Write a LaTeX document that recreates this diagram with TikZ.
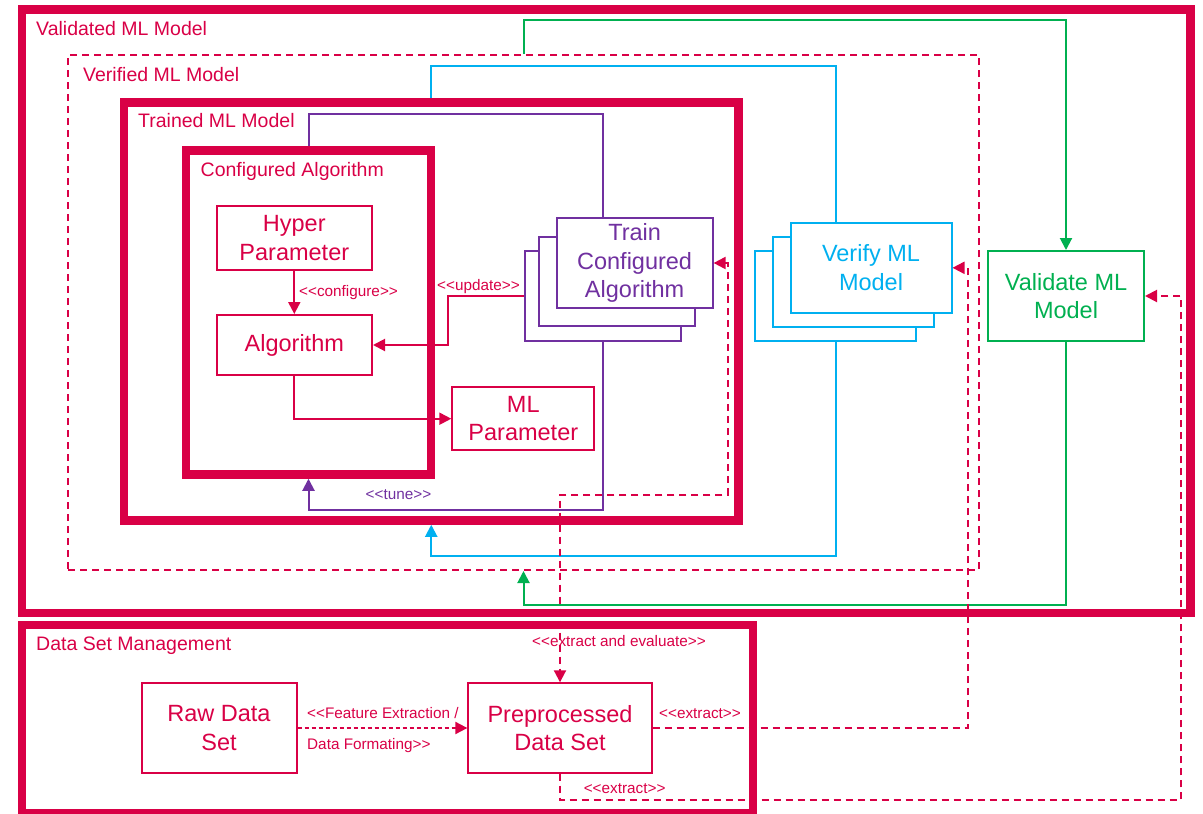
\documentclass[tikz,border=0pt]{standalone}
\usepackage{fontspec}
\newfontfamily\arial{Liberation Sans}
\usetikzlibrary{arrows.meta}
\definecolor{crimson}{HTML}{D90046}
\definecolor{mlpurple}{HTML}{7030A0}
\definecolor{mlblue}{HTML}{00B0F0}
\definecolor{mlgreen}{HTML}{00B050}
\tikzset{
  thickframe/.style={draw=crimson, line width=8.5pt, inner sep=0pt},
  dashframe/.style={draw=crimson, line width=2pt, dash pattern=on 7pt off 5pt, inner sep=0pt},
  ttl/.style={text=crimson, font=\arial\fontsize{19.5}{23}\selectfont, anchor=base west, inner sep=0pt},
  cbox/.style={draw=#1, text=#1, line width=2pt, fill=white, align=center, inner sep=0pt,
    font=\arial\fontsize{23.5}{28.5}\selectfont},
  lbl/.style={text=#1, font=\arial\fontsize{15.3}{18}\selectfont, inner sep=0pt, anchor=base west},
  lbl/.default=crimson,
  wire/.style={draw=#1, line width=2pt},
  arr/.style={-{Triangle[length=12pt,width=12pt]}},
  darr/.style={{Triangle[length=12pt,width=12pt]}-{Triangle[length=12pt,width=12pt]}},
  dwire/.style={draw=crimson, line width=2pt, dash pattern=on 7pt off 5pt},
  fwire/.style={draw=crimson, line width=2pt, dash pattern=on 4.5pt off 2.5pt},
}
\begin{document}
\begin{tikzpicture}[x=1pt,y=-1pt]
\useasboundingbox (0,0) rectangle (1203,814);

% containers
\node[thickframe, minimum width=1168.5pt, minimum height=603.5pt] (validated) at (606.25,311.25) {};
\node[dashframe, minimum width=911pt, minimum height=515pt] (verified) at (523.5,312.5) {};
\node[thickframe, minimum width=614.5pt, minimum height=418pt] (trained) at (431.25,311.5) {};
\node[thickframe, minimum width=245pt, minimum height=324pt] (configured) at (308.5,312.5) {};
\node[thickframe, minimum width=731pt, minimum height=188.5pt] (dataset) at (387.5,719.25) {};

\node[ttl] (tValidated) at (36,35) {Validated ML Model};
\node[ttl] (tVerified) at (83,81) {Verified ML Model};
\node[ttl] (tTrained) at (138,127.7) {Trained ML Model};
\node[ttl] (tConfigured) at (200.5,176.7) {Configured Algorithm};
\node[ttl] (tDataset) at (36,650.7) {Data Set Management};

% activity stacks
\node[cbox=mlpurple, minimum width=156pt, minimum height=89.4pt] (trainC) at (603,296) {};
\node[cbox=mlpurple, minimum width=156pt, minimum height=89.4pt] (trainB) at (616.6,281.5) {};
\node[cbox=mlpurple, minimum width=156pt, minimum height=89.4pt] (trainA) at (634.6,263) {Train\\Configured\\Algorithm};

\node[cbox=mlblue, minimum width=161pt, minimum height=89.6pt] (verifyC) at (835.6,296) {};
\node[cbox=mlblue, minimum width=161pt, minimum height=89.6pt] (verifyB) at (853,281.8) {};
\node[cbox=mlblue, minimum width=161pt, minimum height=89.6pt] (verifyA) at (871,267.8) {Verify ML\\Model};

\node[cbox=mlgreen, minimum width=156pt, minimum height=90pt] (validate) at (1066,296) {Validate ML\\Model};

% artefacts
\node[cbox=crimson, minimum width=155.4pt, minimum height=64.3pt] (hyper) at (294.3,238) {Hyper\\Parameter};
\node[cbox=crimson, minimum width=155.4pt, minimum height=60pt] (algo) at (294.3,345) {Algorithm};
\node[cbox=crimson, minimum width=142pt, minimum height=62.7pt] (mlparam) at (523.3,418.7) {ML\\Parameter};
\node[cbox=crimson, minimum width=155pt, minimum height=89.4pt] (raw) at (219,728) {Raw Data\\Set};
\node[cbox=crimson, minimum width=183.3pt, minimum height=89.4pt] (prep) at (560,728) {Preprocessed\\Data Set};

% route points
\coordinate (gTop) at (1066,19.5);
\coordinate (gBot) at (1066,605);
\coordinate (bTop) at (835.6,66);
\coordinate (bBot) at (835.6,556);
\coordinate (pTop) at (603,114);
\coordinate (pBot) at (603,510);
\coordinate (uKnee) at (448,296);
\coordinate (eMid) at (727.7,495);
\coordinate (xU) at (967.7,728);
\coordinate (xL) at (1181,800);

% validation loop
\draw[wire=mlgreen, arr] (verified.north) |- (gTop) -- (validate.north);
\draw[wire=mlgreen, arr] (validate.south) -- (gBot) -| (verified.south);
% verification loop
\draw[wire=mlblue] (trained.north) |- (bTop) -- (verifyA.north -| bTop);
\draw[wire=mlblue, arr] (verifyC.south) -- (bBot) -| (trained.south);
% training loop
\draw[wire=mlpurple] (configured.north) |- (pTop) -- (trainA.north -| pTop);
\draw[wire=mlpurple, arr] (trainC.south) -- (pBot) -| (configured.south);
\node[lbl=mlpurple] (lTune) at (365.5,499.3) {<<tune>>};

% inside the configured algorithm
\draw[wire=crimson, arr] (hyper) -- (algo);
\node[lbl] (lConfigure) at (299,296) {<<configure>>};
\draw[wire=crimson, arr] (trainC.west) -- (uKnee) |- (algo.east);
\node[lbl] (lUpdate) at (437,290) {<<update>>};
\draw[wire=crimson, arr] (algo.south) |- (mlparam.west);

% data flows
\draw[fwire, arr] (raw) -- (prep);
\node[lbl] (lFeat1) at (307,718.3) {<<Feature Extraction /};
\node[lbl] (lFeat2) at (307,749) {Data Formating>>};
\draw[dwire, darr] (trainA.east) -| (eMid) -| (prep.north);
\node[lbl] (lEval) at (532,646) {<<extract and evaluate>>};
\draw[dwire, arr] (prep.east) -- (xU) |- (verifyA.east);
\node[lbl] (lExtract1) at (659,718.3) {<<extract>>};
\draw[dwire, arr] (prep.south) |- (xL) |- (validate.east);
\node[lbl] (lExtract2) at (583.6,793.3) {<<extract>>};
\end{tikzpicture}
\end{document}
